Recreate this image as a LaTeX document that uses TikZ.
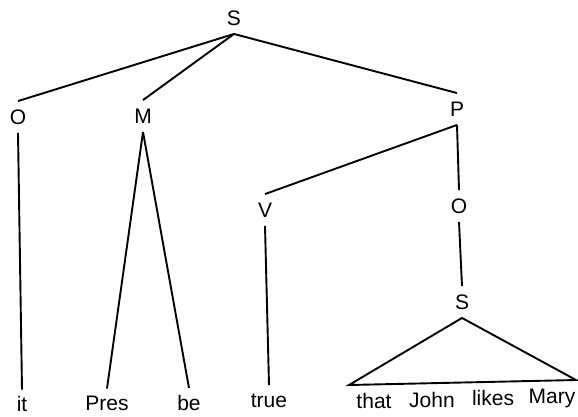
\documentclass[tikz,border=0pt]{standalone}
\usepackage{fontspec}
\setmainfont{Liberation Sans}
\usetikzlibrary{positioning}
\tikzstyle{cat} = [font=\fontsize{21}{23}\selectfont,text height=15pt,text depth=0pt,inner sep=7.5pt]
\tikzstyle{word} = [cat,inner sep=6pt]

\begin{document}
\begin{tikzpicture}
	[x=1pt,y=-1pt,line width=1.9pt]
	\tikzstyle{branch}=[-];
	\useasboundingbox (0,0) rectangle (578,416);
	\node (s) [cat] at (234,18) {S};
	\node (o) [cat] at (18,117) {O};
	\node (m) [cat] at (143,116) {M};
	\node (p) [cat] at (457,109) {P};
	\node (v) [cat] at (265,210) {V};
	\node (o2) [cat] at (459,206) {O};
	\node (s2) [cat] at (462,302) {S};
	\node (it) [word] at (22,404) {it};
	\node (pres) [word] at (107,403) {Pres};
	\node (be) [word] at (189,402.5) {be};
	\node (true) [word] at (269,399.5) {true};
	\node (that) [word] at (374,401) {that};
	\node (john) [word] at (432,399.5) {John};
	\node (likes) [word] at (493,398) {likes};
	\node (mary) [word] at (552,396) {Mary};
	\coordinate (tl) at (349,385);
	\coordinate (tr) at (576,380);
	\path[branch]
		(s.south) edge (o.north)
		(s.south) edge (m.north)
		(s.south) edge (p.north)
		(o.south) edge (it.north)
		(m.south) edge (pres.north)
		(m.south) edge (be.north)
		(p.south) edge (v.north)
		(p.south) edge (o2.north)
		(v.south) edge (true.north)
		(o2.south) edge (s2.north);
	\draw[branch] (s2.south) -- (tl) -- (tr) -- cycle;
\end{tikzpicture}
\end{document}
